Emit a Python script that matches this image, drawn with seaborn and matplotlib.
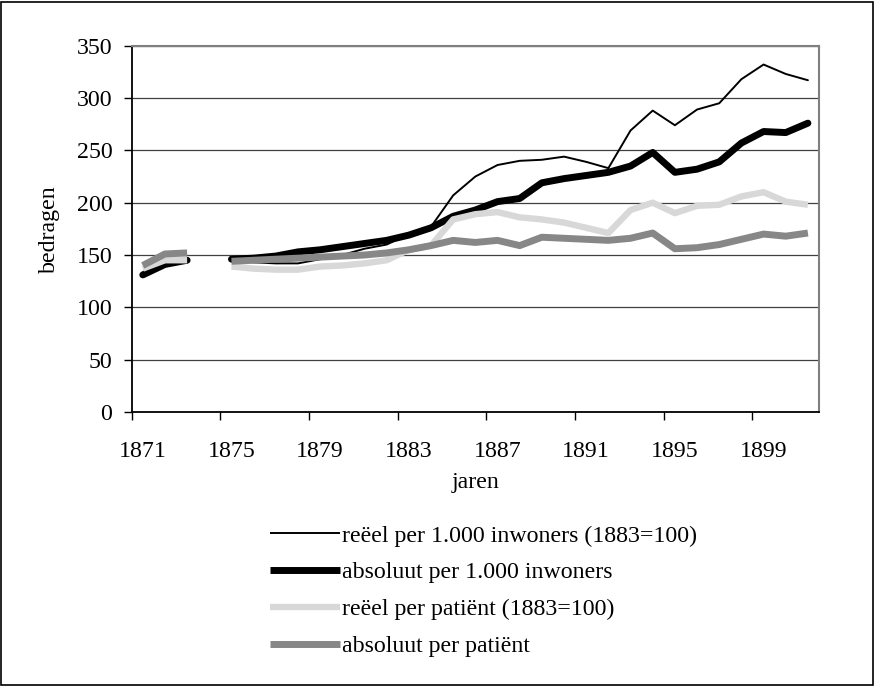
import numpy as np
import pandas as pd
import matplotlib
matplotlib.use("Agg")
import matplotlib.pyplot as plt
import seaborn as sns
from matplotlib.lines import Line2D
from matplotlib.patches import Rectangle

# ---------------- data ----------------
years = list(range(1871, 1902))
reeel_inwoners = [130, 143, 143, np.nan, 145, 143, 142, 142, 146, 150, 156, 160, 170, 177, 207,
                  225, 236, 240, 241, 244, 239, 233, 269, 288, 274, 289, 295, 318, 332, 323, 317]
absoluut_inwoners = [131, 141, 145, np.nan, 146, 147, 149, 153, 155, 158, 161, 164, 169, 176, 187,
                     193, 201, 204, 219, 223, 226, 229, 235, 248, 229, 232, 239, 257, 268, 267, 276]
reeel_patient = [137, 145, 145, np.nan, 139, 137, 136, 136, 139, 140, 142, 145, 155, 159, 184,
                 189, 191, 186, 184, 181, 176, 171, 193, 200, 190, 197, 198, 206, 210, 201, 198]
absoluut_patient = [140, 151, 152, np.nan, 144, 145, 146, 147, 148, 149, 150, 152, 155, 159, 164,
                    162, 164, 159, 167, 166, 165, 164, 166, 171, 156, 157, 160, 165, 170, 168, 171]
series_labels = ["reëel per 1.000 inwoners (1883=100)", "absoluut per 1.000 inwoners",
                 "reëel per patiënt (1883=100)", "absoluut per patiënt"]
tick_years = [1871, 1875, 1879, 1883, 1887, 1891, 1895, 1899]
y_ticks = [0, 50, 100, 150, 200, 250, 300, 350]

# ---------------- style ----------------
plt.rcParams['font.family'] = ['Liberation Serif', 'DejaVu Serif']
FS = 17.2

fig = plt.figure(figsize=(8.75, 6.86), dpi=100)
W, H = 875, 686
L, R, T, B = 131.7, 819.0, 45.7, 412.0
ax = fig.add_axes([L / W, 1 - B / H, (R - L) / W, (B - T) / H])

styles = [
    dict(color="black", lw=1.4, cap="round", z=3),
    dict(color="black", lw=5.0, cap="round", z=4),
    dict(color="#d8d8d8", lw=4.6, cap="butt", z=5),
    dict(color="#878787", lw=5.0, cap="butt", z=6),
]
all_series = [reeel_inwoners, absoluut_inwoners, reeel_patient, absoluut_patient]

for vals, st in zip(all_series, styles):
    d = pd.DataFrame({"jaar": years, "waarde": vals}).dropna()
    d["seg"] = (d["jaar"] > 1874).astype(int)
    sns.lineplot(data=d, x="jaar", y="waarde", units="seg", estimator=None,
                 color=st["color"], lw=st["lw"], solid_capstyle=st["cap"],
                 solid_joinstyle="round", legend=False, ax=ax, zorder=st["z"])

ax.set_xlim(1870.5, 1901.5)
ax.set_ylim(0, 350)
ax.set_yticks(y_ticks)
ax.set_yticklabels([str(v) for v in y_ticks], fontsize=FS)
ax.set_xticks(tick_years)
ax.set_xticklabels([str(v) for v in tick_years], fontsize=FS)
ax.set_xticks([y - 0.5 for y in tick_years], minor=True)
ax.tick_params(axis="x", which="major", length=0, pad=21)
ax.tick_params(axis="x", which="minor", length=6, width=1, direction="out", color="black")
ax.tick_params(axis="y", which="major", length=6, width=1, direction="out", pad=8, color="black")

ax.yaxis.grid(True, color="#404040", lw=0.9)
ax.xaxis.grid(False)
ax.set_axisbelow(True)
for s in ["left", "bottom"]:
    ax.spines[s].set_color("black")
    ax.spines[s].set_linewidth(1.3)
for s in ["top", "right"]:
    ax.spines[s].set_color("#808080")
    ax.spines[s].set_linewidth(1.5)

ax.set_ylabel("bedragen", fontsize=FS)
ax.yaxis.set_label_coords(-0.105, 0.5)
ax.set_xlabel("jaren", fontsize=FS)
ax.xaxis.set_label_coords(0.5, -0.165)

handles = [Line2D([], [], color=st["color"], lw=st["lw"], solid_capstyle="butt") for st in styles]
fig.legend(handles, series_labels, loc="upper left",
           bbox_to_anchor=(270 / W, 1 - 525 / H), frameon=False, fontsize=FS,
           borderpad=0, borderaxespad=0, handlelength=2.95, handletextpad=0.05,
           labelspacing=0.63)

fig.patches.append(Rectangle((0.001, 0.0015), 0.997, 0.996, transform=fig.transFigure,
                             fill=False, edgecolor="black", lw=1.2))

fig.savefig("out.png", dpi=100, facecolor="white")
